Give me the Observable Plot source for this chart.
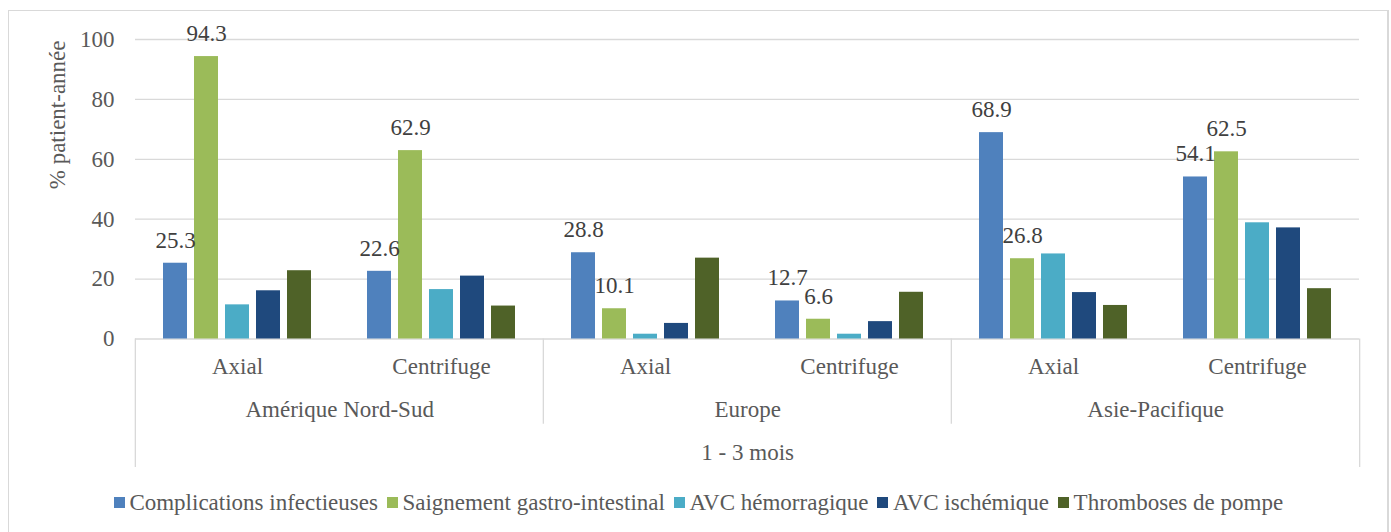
<!DOCTYPE html>
<html>
<head>
<meta charset="utf-8">
<script src="https://cdn.jsdelivr.net/npm/d3@7"></script>
<script src="https://cdn.jsdelivr.net/npm/@observablehq/plot@0.6"></script>
<style>
  html, body { margin: 0; padding: 0; background: #fff; font-family: "Liberation Serif", serif; }
  #frame { position: absolute; left: 8px; top: 10px; width: 1381px; height: 540px; border: 1px solid #d9d9d9; border-right: 2px solid #d9d9d9; box-sizing: border-box; }
  #chart { position: absolute; left: 0; top: 0; }
  #legend { position: absolute; left: 0; width: 1406px; top: 491px; display: flex; justify-content: center;
            font-family: "Liberation Serif", serif; font-size: 23px; line-height: 23px; color: #595959; white-space: nowrap; }
  .item { display: flex; align-items: center; margin-right: 9px; }
  .sw { width: 11px; height: 11px; margin-right: 4.5px; }
</style>
</head>
<body>
<div id="frame"></div>
<div id="chart"></div>
<div id="legend"></div>
<script>
const regions = ["Amérique Nord-Sud", "Europe", "Asie-Pacifique"];
const pumps = ["Axial", "Centrifuge"];
const period = "1 - 3 mois";
const yTitle = "% patient-année";
const series = ["Complications infectieuses", "Saignement gastro-intestinal", "AVC hémorragique", "AVC ischémique", "Thromboses de pompe"];
const colors = ["#4F81BD", "#9BBB59", "#4BACC6", "#1F497D", "#4F6228"];
const yTicks = [0, 20, 40, 60, 80, 100];

// values per subgroup: Amérique Axial, Amérique Centrifuge, Europe Axial, Europe Centrifuge, Asie Axial, Asie Centrifuge
const infectieuses = [25.3, 22.6, 28.8, 12.7, 68.9, 54.1];
const saignement   = [94.3, 62.9, 10.1, 6.6, 26.8, 62.5];
const avcHemo      = [11.4, 16.5, 1.6, 1.6, 28.4, 38.8];
const avcIsch      = [16.1, 21.0, 5.2, 5.8, 15.5, 37.1];
const thromboses   = [22.8, 11.0, 27.0, 15.6, 11.2, 16.8];
const values = [infectieuses, saignement, avcHemo, avcIsch, thromboses];
const labeledSeries = [series[0], series[1]];

const W = 1391, H = 476;
const ml = 134, mr = 31, mt = 39, mb = H - 467;
const fw = (W - ml - mr) / (regions.length * pumps.length);
const yOuter = -42.9, yInner = -28.5;

const keys = regions.flatMap(r => pumps.map(p => r + "|" + p));
const subRows = keys.map((k, i) => ({key: k, pump: pumps[i % pumps.length], region: regions[Math.floor(i / pumps.length)]}));
const rows = [];
keys.forEach((k, i) => series.forEach((s, j) => rows.push({key: k, series: s, value: values[j][i]})));
const labeled = rows.filter(d => labeledSeries.includes(d.series));

const leftSeps = [
  {key: keys[0], bottom: yOuter},
  {key: keys[2], bottom: yInner},
  {key: keys[4], bottom: yInner}
];
const rightSeps = [{key: keys[keys.length - 1], bottom: yOuter}];

const lineColor = "#d9d9d9";
const font = "'Liberation Serif', serif";
const plot = Plot.plot({
  width: W, height: H,
  marginLeft: ml, marginRight: mr, marginTop: mt, marginBottom: mb,
  style: {fontFamily: font, fontSize: "23px", color: "#595959", background: "transparent", overflow: "visible"},
  fx: {domain: keys, padding: 0, axis: null},
  x: {domain: series, paddingInner: 0.22, paddingOuter: 0.874, axis: null},
  y: {domain: [0, 100], range: [338.5, 39]},
  color: {domain: series, range: colors},
  marks: [
    Plot.ruleY(yTicks, {stroke: lineColor, strokeWidth: 1.3}),
    Plot.ruleX(leftSeps, {fx: "key", x: null, y1: 0, y2: "bottom", dx: -fw / 2, stroke: lineColor, strokeWidth: 1.3}),
    Plot.ruleX(rightSeps, {fx: "key", x: null, y1: 0, y2: "bottom", dx: fw / 2, stroke: lineColor, strokeWidth: 1.3}),
    Plot.barY(rows, {fx: "key", x: "series", y: "value", fill: "series"}),
    Plot.text(labeled, {fx: "key", x: "series", y: "value", text: d => d.value.toFixed(1), lineAnchor: "bottom", dy: -15.5, fill: "#404040", fontFamily: font}),
    Plot.axisY({ticks: yTicks, tickSize: 0, tickPadding: 21, label: null, fill: "#595959", fontFamily: font}),
    Plot.text(subRows, {fx: "key", text: "pump", frameAnchor: "bottom", dy: -94, fill: "#595959", fontFamily: font}),
    Plot.text(subRows.filter(d => d.pump === pumps[0]), {fx: "key", text: "region", frameAnchor: "bottom", dy: -51, dx: fw / 2, fill: "#595959", fontFamily: font}),
    Plot.text([period], {fx: () => keys[2], text: d => d, frameAnchor: "bottom", dy: -8, dx: fw / 2, fill: "#595959", fontFamily: font}),
    Plot.text([yTitle], {fx: () => keys[0], y: () => d3.mean([0, 100]), text: d => d, frameAnchor: "left", dx: -78, rotate: -90, fill: "#595959", fontFamily: font})
  ]
});
document.getElementById("chart").appendChild(plot);

const legend = document.getElementById("legend");
series.forEach((s, i) => {
  const it = document.createElement("div");
  it.className = "item";
  const sw = document.createElement("div");
  sw.className = "sw";
  sw.style.background = colors[i];
  const tx = document.createElement("span");
  tx.textContent = s;
  it.appendChild(sw); it.appendChild(tx);
  legend.appendChild(it);
});
</script>
</body>
</html>
